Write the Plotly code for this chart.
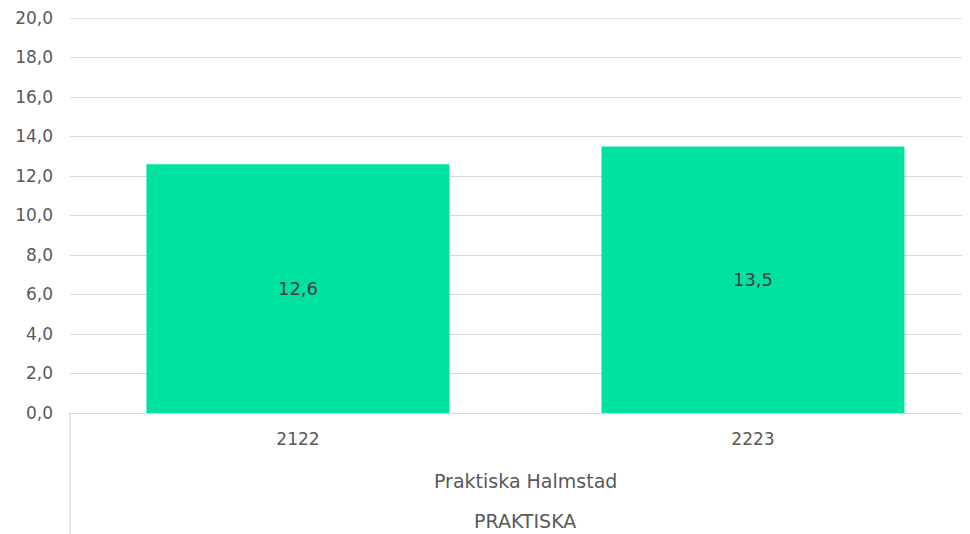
import plotly.graph_objects as go

categories = ["2122", "2223"]
values = [12.6, 13.5]
group_label = "Praktiska Halmstad"
top_label = "PRAKTISKA"

FONT = "DejaVu Sans, sans-serif"
TXT = "#595959"
GRID = "#D9D9D9"

# the page body adds an 8px offset, so the figure is 8px smaller and margins are shifted
W, H = 962, 526
ML, MT, MB = 62, 10, 121
PLOT_H = H - MT - MB

fig = go.Figure()
fig.add_trace(go.Bar(
    x=categories, y=values,
    width=0.666,
    marker=dict(color="#00E2A0", line=dict(width=0)),
    text=[f"{v:.1f}".replace(".", ",") for v in values],
    textposition="inside", insidetextanchor="middle",
    textfont=dict(family=FONT, size=18, color="#404040"),
    hoverinfo="skip",
))

fig.update_layout(
    width=W, height=H,
    margin=dict(l=ML, r=0, t=MT, b=MB, autoexpand=False),
    plot_bgcolor="white", paper_bgcolor="white",
    separators=",.",
    showlegend=False,
    font=dict(family=FONT, size=17, color=TXT),
    xaxis=dict(
        type="category", range=[-0.501, 1.477], automargin=False,
        showgrid=False, zeroline=False, showline=False,
        ticks="", tickfont=dict(family=FONT, size=17, color=TXT),
        ticklabelstandoff=14,
    ),
    yaxis=dict(
        range=[0, 20], dtick=2, tickformat=".1f", automargin=False,
        showgrid=True, gridcolor=GRID, gridwidth=1.3,
        zeroline=True, zerolinecolor=GRID, zerolinewidth=1.3,
        showline=False, ticks="", ticklabeloverflow="allow",
        tickfont=dict(family=FONT, size=17, color=TXT),
        ticklabelstandoff=16,
    ),
)

# top gridline (at the edge of the range)
fig.add_shape(type="line", xref="paper", yref="y", x0=0, x1=1, y0=20, y1=20,
              line=dict(color=GRID, width=1.3), layer="below")

# second and third level category labels
fig.add_annotation(text=group_label, x=0.5, xref="x", y=-68 / PLOT_H, yref="paper",
                   showarrow=False, yanchor="middle",
                   font=dict(family=FONT, size=19, color=TXT))
fig.add_annotation(text=top_label, x=0.5, xref="x", y=-108 / PLOT_H, yref="paper",
                   showarrow=False, yanchor="middle",
                   font=dict(family=FONT, size=19, color=TXT))

# left vertical line of the multi-level category axis
fig.add_shape(type="line", xref="paper", yref="paper",
              x0=0, x1=0, y0=0, y1=-MB / PLOT_H,
              line=dict(color=GRID, width=1.3))

fig.write_html("out.html")
